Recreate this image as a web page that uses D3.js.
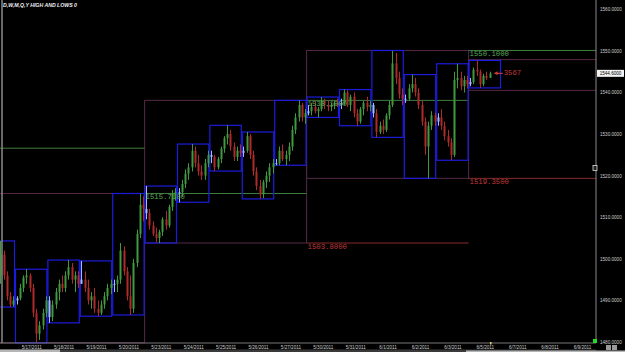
<!DOCTYPE html>
<html>
<head>
<meta charset="utf-8">
<script src="https://cdn.jsdelivr.net/npm/d3@7"></script>
<style>
  html, body { margin: 0; padding: 0; background: #000; }
  svg { display: block; }
</style>
</head>
<body>
<script>
// trading days shown (day 0 is only partly on screen), last three are empty future slots
const dateLabels = ["5/16/2011", "5/17/2011", "5/18/2011", "5/19/2011", "5/20/2011",
  "5/23/2011", "5/24/2011", "5/25/2011", "5/26/2011", "5/27/2011",
  "5/30/2011", "5/31/2011", "6/1/2011", "6/2/2011", "6/3/2011",
  "6/5/2011", "6/7/2011", "6/8/2011", "6/9/2011"];

const priceTicks = [1480, 1490, 1500, 1510, 1520, 1530, 1540, 1550, 1560];

// daily high / low boxes
const dayHigh = [1504.3, 1497.5, 1499.7, 1499.5, 1515.71, 1517.5, 1527.6, 1532.1, 1530.5, 1538.1,
  1538.9, 1540.7, 1550.1, 1544.3, 1546.9, 1547.7];
const dayLow = [1488.4, 1479.8, 1484.6, 1486.2, 1486.5, 1503.8, 1513.6, 1521.1, 1514.4, 1522.5,
  1534.0, 1532.0, 1529.2, 1519.35, 1523.7, 1541.1];

// weekly boxes: first day, day after last, high, low, and prior week's high / low
const weekStart = [0, 5, 10, 15];
const weekEnd = [5, 10, 15, 19];
const weekHigh = [1515.71, 1538.10, 1550.10, 1547.9];
const weekLow = [1479.8, 1503.80, 1519.35, 1540.5];
const prevWeekHigh = [1526.6, 1515.71, 1538.10, 1550.10];
const prevWeekLow = [1462.0, 1479.8, 1503.80, 1519.35];

// intraday bars per day: [high, low, close], open = previous close
const firstOpen = 1496;
const candles = [
  // 5/16 (right part only)
  [[1504.3,1494,1501],[1502,1495,1496],[1497,1490,1491],[1492,1488.4,1489],[1491,1488.5,1490]],
  // 5/17
  [[1491,1489,1490.5],[1494,1490,1493],[1496,1492,1495.5],[1497.5,1494,1496],[1496.5,1492,1493],
   [1494,1486,1487],[1488,1479.9,1482],[1485,1480.5,1484],[1488,1483,1487],[1491,1486,1490]],
  // 5/18
  [[1491,1484.6,1486],[1490,1485,1489],[1493,1488,1492],[1495,1490,1494],[1496,1492,1493],
   [1497,1492,1496],[1499.7,1495,1498],[1499,1494,1495],[1497,1492,1496],[1497,1493,1494]],
  // 5/19
  [[1499.5,1494,1495],[1497,1492,1493],[1495,1489,1490],[1492,1488,1491],[1493,1487,1488],
   [1490,1486.2,1487],[1490,1486.5,1489],[1492,1488,1491],[1494,1490,1493],[1495,1491.5,1494]],
  // 5/20
  [[1495,1492,1494],[1496,1492,1495],[1503.8,1494,1502],[1503,1496,1497],[1498,1490,1491],
   [1496,1486.5,1488],[1500,1487,1499],[1507,1498,1506],[1515.7,1505,1513],[1515,1509,1512]],
  // 5/23
  [[1517.5,1509.5,1511],[1512,1507,1508],[1509,1505.5,1506],[1507.5,1504,1505],[1507,1503.8,1506.5],
   [1510,1505.5,1509.5],[1511.5,1507,1508],[1513,1507.5,1512.5],[1516.5,1511.5,1515.5],[1517,1514,1516]],
  // 5/24
  [[1517,1513.6,1516],[1519,1515,1518],[1521.5,1517,1520.5],[1523,1519,1522],[1527.6,1521,1526],
   [1527,1522,1523],[1525,1520,1521],[1522.5,1519,1520],[1524,1519,1523],[1526,1522,1525]],
  // 5/25
  [[1526,1523,1524.5],[1525,1521.1,1522],[1524.5,1521.5,1524],[1527,1523,1526.5],[1529.5,1525.5,1529],
   [1532.1,1527.5,1530],[1531,1526,1527],[1528,1523.5,1524.5],[1527,1523.5,1526],[1527.5,1524.5,1525.5]],
  // 5/26
  [[1527,1524.5,1526],[1530.5,1525.5,1529.5],[1530,1524,1525],[1526,1520,1521],[1522,1516.5,1517.5],
   [1519,1514.4,1515.5],[1519,1514.6,1518.5],[1521,1517,1520],[1523,1518.5,1522],[1524,1520.5,1523]],
  // 5/27
  [[1524,1522.5,1523],[1527,1522.5,1526],[1527.5,1523.5,1524],[1526,1522.5,1525],[1528,1523.5,1527],
   [1532,1526,1531],[1535,1530,1534],[1538.1,1533,1537],[1537.5,1533,1534],[1536,1532.5,1535]],
  // 5/30
  [[1537,1534.5,1535.5],[1537.5,1534.5,1536.5],[1538,1535,1535.5],[1536.5,1534,1536],[1538.9,1535.5,1538],
   [1538.5,1536,1537],[1538,1535.5,1536.5],[1537.5,1535.5,1537],[1538,1536,1537.5],[1538.5,1536.5,1537]],
  // 5/31
  [[1538.5,1536,1537.5],[1540.7,1537,1540],[1540.5,1536.5,1537],[1539.5,1535.5,1539],[1540,1534,1535],
   [1536,1532,1533],[1536.5,1532.5,1536],[1538,1534.5,1537.5],[1539,1535.5,1536.5],[1538,1535.5,1537]],
  // 6/1
  [[1537.5,1534,1535],[1536,1529.2,1530.5],[1533,1530,1532],[1533.5,1530,1531],[1535,1530.5,1534.5],
   [1538,1533.5,1537],[1550,1536.5,1547],[1549.5,1542,1543.5],[1545,1538.5,1539.5],[1541,1537,1538.5]],
  // 6/2
  [[1539.5,1537.5,1538.5],[1542,1538,1541],[1544.3,1540,1542],[1543.5,1539,1540],[1541,1536,1537],
   [1538,1532,1533],[1534,1525,1527],[1533,1519.3,1532],[1535.5,1531,1534.5],[1535,1532,1533]],
  // 6/3
  [[1535,1532,1534],[1536,1531,1532],[1533,1528.5,1529.5],[1531,1527,1528],[1529,1523.7,1525],
   [1545,1524.5,1543],[1546.9,1541,1543.5],[1545,1540.5,1541.5],[1544,1540,1543],[1544,1541,1542]],
  // 6/6 (in progress)
  [[1543.5,1541.5,1542.5],[1546,1542,1545.5],[1547.7,1544,1545],[1545.5,1541.1,1542],[1544.5,1541.5,1544],
   [1545,1543,1543.5],[1545,1543.5,1544.6]]
];

const lastPrice = 1544.6;
const barCountdown = "3567";
const title = "D,W,M,Q,Y HIGH AND LOWS 0";

const width = 625, height = 352;
const plotRight = 596, plotBottom = 343;
const slots = 10;

const x = d3.scaleLinear().domain([0, 19]).range([-17.4, 598.2]);
const y = d3.scaleLinear().domain([1480, 1560]).range([342, 9.3]);

const fmt = d3.format(".4f");
const labelFont = "'Liberation Mono', 'DejaVu Sans Mono', monospace";

// flatten bars
const bars = [];
let prev = firstOpen;
candles.forEach((day, d) => {
  const offset = d === 0 ? slots - day.length : 0;
  day.forEach(([h, l, c], i) => {
    bars.push({ t: d + (offset + i + 0.5) / slots, o: prev, h, l, c, first: i === 0 && d > 0 });
    prev = c;
  });
});

const svg = d3.select("body").append("svg")
  .attr("width", width)
  .attr("height", height)
  .style("background", "#000");

svg.append("defs").append("clipPath").attr("id", "plot")
  .append("rect").attr("x", 0).attr("y", 0).attr("width", plotRight).attr("height", plotBottom + 1);

const g = svg.append("g").attr("clip-path", "url(#plot)");

// frame
svg.append("line").attr("x1", 2).attr("x2", 2).attr("y1", 0).attr("y2", plotBottom)
  .attr("stroke", "#8a8a8a").attr("stroke-width", 1.5);
svg.append("line").attr("x1", plotRight).attr("x2", plotRight).attr("y1", 0).attr("y2", plotBottom)
  .attr("stroke", "#8a8a8a");
svg.append("line").attr("x1", 0).attr("x2", plotRight).attr("y1", plotBottom).attr("y2", plotBottom)
  .attr("stroke", "#777");

// weekly boxes
const weeks = weekStart.map((s, i) => ({
  s, e: weekEnd[i], hi: weekHigh[i], lo: weekLow[i], ph: prevWeekHigh[i], pl: prevWeekLow[i]
}));

g.selectAll("rect.week")
  .data(weeks)
  .join("rect")
    .attr("class", "week")
    .attr("x", d => x(d.s))
    .attr("y", d => y(d.hi))
    .attr("width", d => Math.min(x(d.e), plotRight + 2) - x(d.s))
    .attr("height", d => y(d.lo) - y(d.hi))
    .attr("fill", "none")
    .attr("stroke", "#552846")
    .attr("stroke-width", 1);

// prior week high / low lines
g.selectAll("line.ph")
  .data(weeks)
  .join("line")
    .attr("class", "ph")
    .attr("x1", d => x(d.s)).attr("x2", d => x(d.e))
    .attr("y1", d => y(d.ph)).attr("y2", d => y(d.ph))
    .attr("stroke", "#3f7f3f");

g.selectAll("line.pl")
  .data(weeks.filter(d => d.pl >= 1480))
  .join("line")
    .attr("class", "pl")
    .attr("x1", d => x(d.s)).attr("x2", d => x(d.e))
    .attr("y1", d => y(d.pl)).attr("y2", d => y(d.pl))
    .attr("stroke", "#8a2b2b");

// daily boxes
g.selectAll("rect.day")
  .data(dayHigh.map((h, i) => ({ d: i, h, l: dayLow[i] })))
  .join("rect")
    .attr("class", "day")
    .attr("x", d => x(d.d) + 0.5)
    .attr("y", d => y(d.h))
    .attr("width", d => x(d.d + 1) - x(d.d) - 1)
    .attr("height", d => y(d.l) - y(d.h))
    .attr("fill", "none")
    .attr("stroke", "#1c1cdc")
    .attr("stroke-width", 1.2);

// candles
const barColor = d => d.first ? "#9fbaff" : (d.c >= d.o ? "#3f9a3f" : "#b02a2a");

g.selectAll("line.wick")
  .data(bars)
  .join("line")
    .attr("class", "wick")
    .attr("x1", d => Math.round(x(d.t)) + 0.5).attr("x2", d => Math.round(x(d.t)) + 0.5)
    .attr("y1", d => y(d.h)).attr("y2", d => y(d.l))
    .attr("stroke", barColor);

g.selectAll("rect.body")
  .data(bars)
  .join("rect")
    .attr("class", "body")
    .attr("x", d => Math.round(x(d.t)) - 0.5)
    .attr("y", d => y(Math.max(d.o, d.c)))
    .attr("width", 2)
    .attr("height", d => Math.max(1, Math.abs(y(d.o) - y(d.c))))
    .attr("fill", barColor);

// prior week labels
const labelWeeks = weeks.filter(d => x(d.s) > 0);
g.selectAll("text.ph")
  .data(labelWeeks)
  .join("text")
    .attr("class", "ph")
    .attr("x", d => x(d.s) + 1)
    .attr("y", d => y(d.ph) + 1)
    .attr("dominant-baseline", "hanging")
    .attr("font-family", labelFont)
    .attr("font-size", 7.3)
    .attr("fill", "#5aa85a")
    .text(d => fmt(d.ph));

g.selectAll("text.pl")
  .data(labelWeeks.filter(d => d.pl >= 1480))
  .join("text")
    .attr("class", "pl")
    .attr("x", d => x(d.s) + 1)
    .attr("y", d => y(d.pl) + 1)
    .attr("dominant-baseline", "hanging")
    .attr("font-family", labelFont)
    .attr("font-size", 7.3)
    .attr("fill", "#c03a3a")
    .text(d => fmt(d.pl));

// countdown arrow + text next to last bar
const last = bars[bars.length - 1];
const ax = x(last.t) + 4;
g.append("path")
  .attr("d", `M${ax},${y(lastPrice)}l4,-2v1.3h5v1.4h-5v1.3z`)
  .attr("fill", "#c03a3a");
g.append("text")
  .attr("x", ax + 10)
  .attr("y", y(lastPrice))
  .attr("dominant-baseline", "middle")
  .attr("font-family", labelFont)
  .attr("font-size", 7.3)
  .attr("fill", "#c03a3a")
  .text(barCountdown);

// price axis
const yAxis = svg.append("g")
  .attr("transform", `translate(${plotRight},0)`)
  .call(d3.axisRight(y).tickValues(priceTicks).tickFormat(fmt).tickSize(0).tickPadding(4));
yAxis.select(".domain").remove();
yAxis.selectAll("text")
  .attr("font-family", "'Liberation Sans', Arial, sans-serif")
  .attr("font-size", 4.6)
  .attr("fill", "#cfcfcf");

// last price box
svg.append("rect")
  .attr("x", plotRight + 1).attr("y", y(lastPrice) - 3.5)
  .attr("width", width - plotRight - 2).attr("height", 7)
  .attr("fill", "#f2f2f2");
svg.append("text")
  .attr("x", (plotRight + width) / 2).attr("y", y(lastPrice))
  .attr("text-anchor", "middle").attr("dominant-baseline", "middle")
  .attr("font-family", "'Liberation Sans', Arial, sans-serif")
  .attr("font-size", 4.6)
  .attr("fill", "#000")
  .text(fmt(lastPrice));

// date axis
const dayTicks = dateLabels.map((_, i) => i + 0.5).filter(t => x(t) > 10);
const xAxis = svg.append("g")
  .attr("transform", `translate(0,${plotBottom})`)
  .call(d3.axisBottom(x).tickValues(dayTicks).tickFormat(t => dateLabels[Math.floor(t)]).tickSize(0).tickPadding(2.5));
xAxis.select(".domain").remove();
xAxis.selectAll("text")
  .attr("font-family", "'Liberation Sans', Arial, sans-serif")
  .attr("font-size", 4.6)
  .attr("fill", "#cfcfcf");

// current bar marker on the time axis
svg.append("rect")
  .attr("x", Math.round(x(last.t))).attr("y", plotBottom - 1)
  .attr("width", 1.5).attr("height", 2.5)
  .attr("fill", "#e8d070");

// small markers on the right edge
svg.append("rect")
  .attr("x", plotRight - 3).attr("y", 339).attr("width", 4).attr("height", 4)
  .attr("fill", "#22dd22");
svg.append("rect")
  .attr("x", plotRight - 3).attr("y", 165.5).attr("width", 4).attr("height", 5)
  .attr("fill", "#222").attr("stroke", "#ddd").attr("stroke-width", 0.8);

// scrollbar strip and buttons
svg.append("rect").attr("x", 0).attr("y", 349.5).attr("width", plotRight).attr("height", 2.5).attr("fill", "#3a3a3a");
svg.append("rect").attr("x", 0).attr("y", 349.5).attr("width", 60).attr("height", 2.5).attr("fill", "#b5b5b5");
svg.append("rect").attr("x", 466).attr("y", 350.5).attr("width", width - 466).attr("height", 1.5).attr("fill", "#b5b5b5");
svg.append("rect").attr("x", 606).attr("y", 345).attr("width", 5).attr("height", 5).attr("fill", "#9a9a9a");
svg.append("rect").attr("x", 612).attr("y", 345).attr("width", 5).attr("height", 5).attr("fill", "#9a9a9a");

// title
svg.append("text")
  .attr("x", 3).attr("y", 7.2)
  .attr("font-family", "'Liberation Sans', Arial, sans-serif")
  .attr("font-size", 5.2)
  .attr("font-weight", "bold")
  .attr("font-style", "italic")
  .attr("fill", "#f0f0f0")
  .text(title);
</script>
</body>
</html>
